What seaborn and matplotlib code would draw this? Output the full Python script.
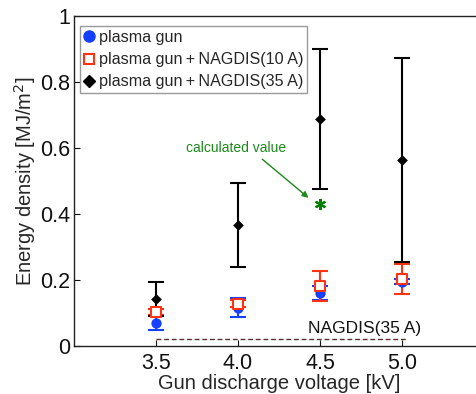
import matplotlib
matplotlib.use("Agg")
import matplotlib.pyplot as plt
import seaborn as sns
import pandas as pd
from matplotlib.lines import Line2D

sns.set_style("white")
plt.rcParams['font.family'] = ['Liberation Sans', 'DejaVu Sans']

voltage = [3.5, 4.0, 4.5, 5.0]

gun = [0.071, 0.114, 0.161, 0.195]
gun_lo = [0.048, 0.087, 0.139, 0.188]
gun_hi = [0.094, 0.144, 0.183, 0.202]

gun10 = [0.104, 0.127, 0.182, 0.203]
gun10_lo = [0.094, 0.117, 0.135, 0.157]
gun10_hi = [0.112, 0.139, 0.228, 0.248]

gun35 = [0.142, 0.366, 0.688, 0.565]
gun35_lo = [0.092, 0.240, 0.477, 0.255]
gun35_hi = [0.193, 0.493, 0.899, 0.874]

calc_x = [4.5]
calc_y = [0.429]

nagdis_level = 0.022
nagdis_x = [3.5, 5.03]

labels = ["plasma gun", "plasma gun\u2009+\u2009NAGDIS(10 A)", "plasma gun\u2009+\u2009NAGDIS(35 A)"]
colors = ["#1540ff", "#ff3311", "#000000"]

rows = []
for lab, ys in zip(labels, [gun, gun10, gun35]):
    for v, y in zip(voltage, ys):
        rows.append({"voltage": v, "energy": y, "series": lab})
df = pd.DataFrame(rows)

fig = plt.figure(figsize=(4.76, 3.94), dpi=100)
ax = fig.add_axes([74/476, 48/394, 410/476, 330/394])

series = [(gun, gun_lo, gun_hi), (gun10, gun10_lo, gun10_hi), (gun35, gun35_lo, gun35_hi)]
for (ys, lo, hi), c in zip(series, colors):
    yerr = [[y - l for y, l in zip(ys, lo)], [h - y for y, h in zip(ys, hi)]]
    ax.errorbar(voltage, ys, yerr=yerr, fmt='none', ecolor=c, elinewidth=1.5,
                capsize=5.5, capthick=1.5, zorder=2)

sub = df[df.series == labels[0]]
sns.scatterplot(data=sub, x="voltage", y="energy", ax=ax, marker='o', s=55,
                color=colors[0], edgecolor=colors[0], linewidth=0, zorder=3, legend=False)
sub = df[df.series == labels[1]]
sns.scatterplot(data=sub, x="voltage", y="energy", ax=ax, marker='s', s=45,
                facecolor='white', edgecolor=colors[1], linewidth=1.5, zorder=4, legend=False)
sub = df[df.series == labels[2]]
sns.scatterplot(data=sub, x="voltage", y="energy", ax=ax, marker='D', s=30,
                color=colors[2], edgecolor=colors[2], linewidth=0, zorder=5, legend=False)

ax.plot(calc_x, calc_y, marker=(6, 2, 0), markersize=8, color='#008000',
        markeredgewidth=1.5, linestyle='none', zorder=5)

ax.plot(nagdis_x, [nagdis_level, nagdis_level], linestyle=(0, (3.5, 2)),
        color='#603030', linewidth=1.0, zorder=1)
ax.text(4.77, 0.054, "NAGDIS(35 A)", ha='center', va='center', fontsize=12.5, color='#111111')

ax.annotate("", xy=(4.43, 0.449), xytext=(4.148, 0.566),
            arrowprops=dict(arrowstyle='-|>', color='#1a8a1a', lw=1.0,
                            mutation_scale=9, shrinkA=0, shrinkB=0))
ax.text(3.99, 0.599, "calculated value", ha='center', va='center', fontsize=10,
        color='#1a8a1a')

ax.set_xlim(3.0, 5.5)
ax.set_ylim(0, 1)
ax.set_xticks(voltage)
ax.set_xticklabels(["3.5", "4.0", "4.5", "5.0"])
ax.set_yticks([0, 0.2, 0.4, 0.6, 0.8, 1.0])
ax.set_yticklabels(["0", "0.2", "0.4", "0.6", "0.8", "1"])
ax.tick_params(direction='in', length=4, width=0.8, labelsize=15.5, colors='#111111',
               bottom=True, left=True)
ax.tick_params(axis='x', pad=5)
ax.tick_params(axis='y', pad=3)
for s in ax.spines.values():
    s.set_color('#222222')
    s.set_linewidth(1.0)

ax.set_xlabel("Gun discharge voltage [kV]", fontsize=14.5, labelpad=0)
ax.set_ylabel("Energy density [MJ/m$^2$]", fontsize=14.5, labelpad=1)

handles = [
    Line2D([], [], marker='o', linestyle='none', color=colors[0], markersize=8),
    Line2D([], [], marker='s', linestyle='none', markerfacecolor='white',
           markeredgecolor=colors[1], markeredgewidth=1.5, markersize=7),
    Line2D([], [], marker='D', linestyle='none', color=colors[2], markersize=6),
]
leg = ax.legend(handles, labels, loc='upper left', bbox_to_anchor=(0.015, 0.97),
                fontsize=11.6, handlelength=0.6, handletextpad=0.3, borderpad=0.25,
                labelspacing=0.45, borderaxespad=0, fancybox=False, framealpha=1)
leg.get_frame().set_edgecolor('#999999')
leg.get_frame().set_linewidth(1.0)

fig.savefig("out.png", dpi=100)
